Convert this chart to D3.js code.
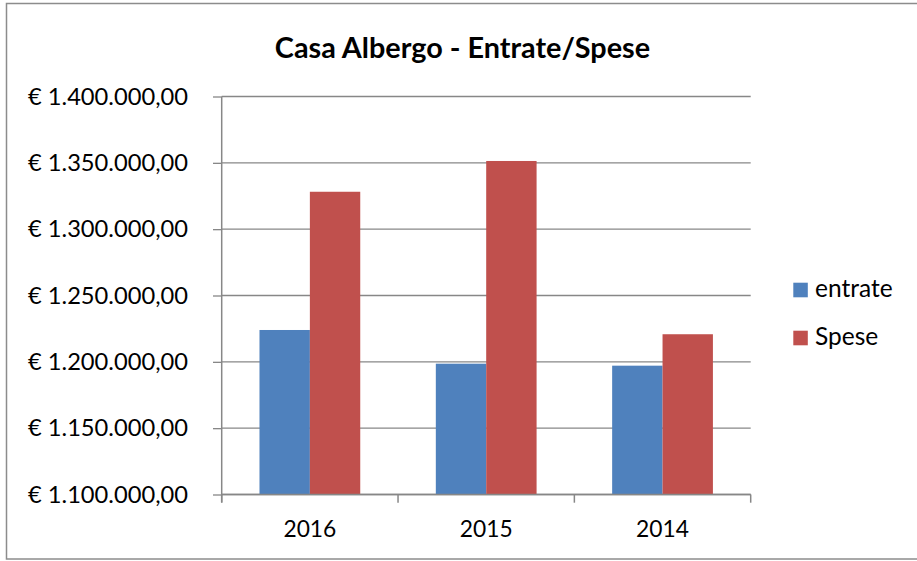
<!DOCTYPE html>
<html>
<head>
<meta charset="utf-8">
<script src="https://d3js.org/d3.v7.min.js"></script>
<style>
  body { margin: 0; background: #fff; }
  svg { display: block; font-family: Lato, "Open Sans", sans-serif; }
</style>
</head>
<body>
<script>
// chart data
var years = ["2016", "2015", "2014"];
var seriesNames = ["entrate", "Spese"];
var entrate = [1224000, 1198600, 1197100];
var spese = [1328200, 1351400, 1220800];
var yTicks = [1100000, 1150000, 1200000, 1250000, 1300000, 1350000, 1400000];

var W = 917, H = 561;
var plot = {left: 221.7, right: 750.7, top: 96.5, bottom: 494.5};

var svg = d3.select("body").append("svg")
    .attr("width", W)
    .attr("height", H);

// outer frame (right edge runs off the picture)
svg.append("rect")
    .attr("x", 6.5).attr("y", 3.5)
    .attr("width", 1000).attr("height", 555.5)
    .attr("fill", "#fff")
    .attr("stroke", "#8c8c8c")
    .attr("stroke-width", 1.5);

var itFormat = d3.formatLocale({decimal: ",", thousands: ".", grouping: [3], currency: ["€ ", ""]});
var money = itFormat.format("$,.2f");

var yScale = d3.scaleLinear().domain([1100000, 1400000]).range([plot.bottom, plot.top]);
var xScale = d3.scaleBand().domain(years).range([plot.left, plot.right]).paddingInner(0).paddingOuter(0);
var xSub = d3.scaleBand().domain(seriesNames).range([0, xScale.bandwidth()]).paddingInner(0).paddingOuter(0.75);
var color = d3.scaleOrdinal().domain(seriesNames).range(["#4f81bd", "#c0504d"]);

// gridlines
svg.append("g")
    .selectAll("line")
    .data(yTicks)
  .enter().append("line")
    .attr("x1", plot.left).attr("x2", plot.right)
    .attr("y1", function(d) { return yScale(d); })
    .attr("y2", function(d) { return yScale(d); })
    .attr("stroke", "#878787")
    .attr("stroke-width", 1.3);

// bars
var rows = years.map(function(y, i) {
    return {year: y, values: [{name: "entrate", v: entrate[i]}, {name: "Spese", v: spese[i]}]};
});

var groups = svg.selectAll(".grp")
    .data(rows)
  .enter().append("g")
    .attr("class", "grp")
    .attr("transform", function(d) { return "translate(" + xScale(d.year) + ",0)"; });

groups.selectAll("rect")
    .data(function(d) { return d.values; })
  .enter().append("rect")
    .attr("x", function(d) { return xSub(d.name); })
    .attr("width", xSub.bandwidth())
    .attr("y", function(d) { return yScale(d.v); })
    .attr("height", function(d) { return plot.bottom - yScale(d.v); })
    .attr("fill", function(d) { return color(d.name); });

// y axis
var yAxis = d3.axisLeft(yScale).tickValues(yTicks).tickSize(8.7).tickPadding(25).tickFormat(money);
var gy = svg.append("g")
    .attr("transform", "translate(" + plot.left + ",0)")
    .call(yAxis);
gy.select(".domain").remove();
gy.selectAll("line").attr("stroke", "#878787").attr("stroke-width", 1.3);
gy.selectAll("text")
    .attr("font-family", "Lato, sans-serif")
    .attr("font-size", "23.7px")
    .attr("fill", "#000");

svg.append("line")
    .attr("x1", plot.left).attr("x2", plot.left)
    .attr("y1", plot.top).attr("y2", plot.bottom + 8)
    .attr("stroke", "#878787").attr("stroke-width", 1.5);

// x axis
svg.append("line")
    .attr("x1", plot.left).attr("x2", plot.right)
    .attr("y1", plot.bottom).attr("y2", plot.bottom)
    .attr("stroke", "#878787").attr("stroke-width", 1.5);

var edges = years.map(function(y) { return xScale(y); }).concat([plot.right]);
svg.append("g")
    .selectAll("line")
    .data(edges)
  .enter().append("line")
    .attr("x1", function(d) { return d; }).attr("x2", function(d) { return d; })
    .attr("y1", plot.bottom).attr("y2", plot.bottom + 8.2)
    .attr("stroke", "#878787").attr("stroke-width", 1.5);

svg.append("g")
    .selectAll("text")
    .data(years)
  .enter().append("text")
    .attr("x", function(d) { return xScale(d) + xScale.bandwidth() / 2; })
    .attr("y", 536.7)
    .attr("text-anchor", "middle")
    .attr("font-size", "22.8px")
    .text(function(d) { return d; });

// title
svg.append("text")
    .attr("x", 462.5)
    .attr("y", 58.3)
    .attr("text-anchor", "middle")
    .attr("font-size", "28.8px")
    .attr("font-weight", "bold")
    .text("Casa Albergo - Entrate/Spese");

// legend
var legend = svg.selectAll(".legend")
    .data(seriesNames)
  .enter().append("g")
    .attr("class", "legend")
    .attr("transform", function(d, i) { return "translate(793.3," + (282.7 + i * 48) + ")"; });

legend.append("rect")
    .attr("width", 14.5)
    .attr("height", 14.6)
    .attr("fill", color);

legend.append("text")
    .attr("x", 21.7)
    .attr("y", 14.6)
    .attr("font-size", "24.5px")
    .text(function(d) { return d; });
</script>
</body>
</html>
